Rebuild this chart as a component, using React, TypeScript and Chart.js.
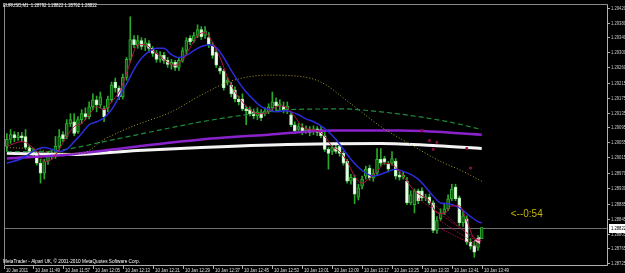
import { useEffect, useRef } from 'react';
import { Chart, registerables } from 'chart.js';

Chart.register(...registerables);

// ---- categories (M1 bars, 10 Jan 2011) ----
const times = [
  '11:42','11:43','11:44','11:45','11:46','11:47','11:48','11:49','11:50','11:51','11:52','11:53','11:54','11:55','11:56','11:57','11:58','11:59',
  '12:00','12:01','12:02','12:03','12:04','12:05','12:06','12:07','12:08','12:09','12:10','12:11','12:12','12:13','12:14','12:15','12:16','12:17','12:18','12:19',
  '12:20','12:21','12:22','12:23','12:24','12:25','12:26','12:27','12:28','12:29','12:30','12:31','12:32','12:33','12:34','12:35','12:36','12:37','12:38','12:39',
  '12:40','12:41','12:42','12:43','12:44','12:45','12:46','12:47','12:48','12:49','12:50','12:51','12:52','12:53','12:54','12:55','12:56','12:57','12:58','12:59',
  '13:00','13:01','13:02','13:03','13:04','13:05','13:06','13:07','13:08','13:09','13:10','13:11','13:12','13:13','13:14','13:15','13:16','13:17','13:18','13:19',
  '13:20','13:21','13:22','13:23','13:24','13:25','13:26','13:27','13:28','13:29','13:30','13:31','13:32','13:33','13:34','13:35','13:36','13:37','13:38','13:39',
  '13:40','13:41','13:42','13:43','13:44','13:45','13:46','13:47','13:48','13:49',
];
const futureSlots = 33; // empty chart-shift space right of the last bar

// ---- OHLC ----
const openPrices = [
  1.29043,1.29062,1.29075,1.29067,1.29072,1.29070,1.29040,1.29029,1.29024,1.28997,
  1.28970,1.29002,1.29024,1.29016,1.29043,1.29075,1.29070,1.29105,1.29110,1.29083,
  1.29116,1.29132,1.29124,1.29151,1.29170,1.29156,1.29145,1.29148,1.29170,1.29218,
  1.29202,1.29178,1.29231,1.29280,1.29334,1.29320,1.29331,1.29315,1.29323,1.29310,
  1.29296,1.29280,1.29291,1.29277,1.29266,1.29272,1.29258,1.29277,1.29304,1.29337,
  1.29331,1.29345,1.29361,1.29345,1.29339,1.29318,1.29299,1.29256,1.29248,1.29218,
  1.29210,1.29196,1.29172,1.29172,1.29145,1.29143,1.29137,1.29126,1.29134,1.29132,
  1.29137,1.29148,1.29164,1.29153,1.29153,1.29143,1.29129,1.29102,1.29089,1.29094,
  1.29086,1.29089,1.29083,1.29091,1.29089,1.29072,1.29035,1.29029,1.29040,1.29043,
  1.29024,1.29002,1.28948,1.28957,1.28905,1.28935,1.28962,1.28984,1.28957,1.28970,
  1.29008,1.29010,1.28994,1.28997,1.29002,1.28965,1.28959,1.28948,1.28889,1.28884,
  1.28922,1.28922,1.28903,1.28905,1.28889,1.28814,1.28846,1.28862,1.28873,1.28900,
  1.28932,1.28903,1.28835,1.28846,1.28782,1.28773,1.28768,1.28792,
];
const highPrices = [
  1.29078,1.29089,1.29083,1.29081,1.29081,1.29089,1.29045,1.29037,1.29029,1.29008,
  1.29008,1.29029,1.29035,1.29070,1.29089,1.29083,1.29116,1.29132,1.29132,1.29124,
  1.29143,1.29148,1.29164,1.29186,1.29180,1.29191,1.29153,1.29180,1.29218,1.29229,
  1.29207,1.29240,1.29285,1.29396,1.29345,1.29345,1.29339,1.29337,1.29331,1.29315,
  1.29304,1.29301,1.29299,1.29285,1.29280,1.29277,1.29285,1.29312,1.29339,1.29345,
  1.29353,1.29374,1.29369,1.29369,1.29353,1.29326,1.29307,1.29261,1.29253,1.29231,
  1.29218,1.29205,1.29180,1.29186,1.29153,1.29151,1.29145,1.29148,1.29143,1.29148,
  1.29159,1.29191,1.29175,1.29170,1.29164,1.29164,1.29137,1.29110,1.29105,1.29105,
  1.29099,1.29097,1.29099,1.29097,1.29097,1.29081,1.29040,1.29048,1.29048,1.29051,
  1.29029,1.29008,1.28967,1.28965,1.28940,1.28962,1.28989,1.28992,1.28981,1.29037,
  1.29037,1.29016,1.29002,1.29029,1.29010,1.28975,1.28973,1.28959,1.28922,1.28927,
  1.28927,1.28930,1.28913,1.28913,1.28895,1.28852,1.28873,1.28887,1.28911,1.28940,
  1.28940,1.28908,1.28868,1.28854,1.28792,1.28784,1.28800,1.28822,
];
const lowPrices = [
  1.29029,1.29051,1.29056,1.29059,1.29056,1.29035,1.29024,1.29016,1.28992,1.28943,
  1.28954,1.28994,1.29008,1.29010,1.29035,1.29056,1.29064,1.29097,1.29072,1.29078,
  1.29105,1.29116,1.29118,1.29143,1.29137,1.29148,1.29110,1.29137,1.29164,1.29191,
  1.29170,1.29172,1.29223,1.29272,1.29312,1.29310,1.29307,1.29304,1.29299,1.29288,
  1.29272,1.29272,1.29269,1.29258,1.29253,1.29250,1.29250,1.29272,1.29293,1.29320,
  1.29326,1.29339,1.29334,1.29337,1.29312,1.29283,1.29258,1.29240,1.29196,1.29210,
  1.29178,1.29164,1.29156,1.29140,1.29102,1.29126,1.29118,1.29116,1.29113,1.29126,
  1.29132,1.29137,1.29143,1.29137,1.29134,1.29132,1.29097,1.29078,1.29081,1.29075,
  1.29078,1.29072,1.29075,1.29072,1.29067,1.29029,1.28981,1.29021,1.29024,1.29016,
  1.28992,1.28943,1.28940,1.28887,1.28897,1.28927,1.28954,1.28951,1.28948,1.28965,
  1.28989,1.28994,1.28973,1.28992,1.28954,1.28951,1.28954,1.28884,1.28884,1.28862,
  1.28887,1.28895,1.28895,1.28884,1.28808,1.28806,1.28841,1.28857,1.28868,1.28895,
  1.28895,1.28827,1.28825,1.28776,1.28763,1.28741,1.28760,1.28792,
];
const closePrices = [
  1.29062,1.29075,1.29067,1.29072,1.29067,1.29040,1.29029,1.29024,1.28997,1.28970,
  1.29002,1.29024,1.29016,1.29043,1.29070,1.29064,1.29105,1.29116,1.29078,1.29116,
  1.29132,1.29124,1.29151,1.29170,1.29156,1.29178,1.29124,1.29172,1.29210,1.29202,
  1.29178,1.29231,1.29280,1.29334,1.29320,1.29331,1.29315,1.29326,1.29310,1.29296,
  1.29280,1.29291,1.29277,1.29266,1.29272,1.29258,1.29277,1.29304,1.29331,1.29328,
  1.29345,1.29361,1.29342,1.29358,1.29320,1.29291,1.29264,1.29248,1.29202,1.29223,
  1.29186,1.29172,1.29164,1.29145,1.29140,1.29132,1.29126,1.29137,1.29121,1.29140,
  1.29151,1.29164,1.29153,1.29159,1.29143,1.29153,1.29102,1.29086,1.29097,1.29083,
  1.29091,1.29081,1.29091,1.29081,1.29072,1.29035,1.29024,1.29040,1.29029,1.29024,
  1.28997,1.28948,1.28959,1.28913,1.28930,1.28954,1.28981,1.28957,1.28970,1.29008,
  1.28997,1.29000,1.28981,1.29010,1.28962,1.28959,1.28965,1.28889,1.28911,1.28922,
  1.28895,1.28903,1.28905,1.28889,1.28814,1.28841,1.28862,1.28873,1.28900,1.28927,
  1.28900,1.28835,1.28854,1.28782,1.28771,1.28755,1.28792,1.28822,
];

// ---- indicator lines: [bar index, price] ----
const redLine: [number, number][] = [
  [0,1.29043],[4,1.29056],[8,1.29029],[10,1.29002],[12,1.29008],[14,1.29035],[16,1.29070],[18,1.29097],[20,1.29105],[22,1.29129],
  [24,1.29151],[26,1.29143],[28,1.29164],[30,1.29191],[31,1.29213],[33,1.29272],[35,1.29320],[37,1.29320],[39,1.29304],[41,1.29288],
  [43,1.29272],[45,1.29264],[47,1.29277],[49,1.29312],[51,1.29345],[53,1.29353],[55,1.29326],[57,1.29285],[59,1.29231],[61,1.29191],
  [63,1.29164],[65,1.29143],[67,1.29132],[69,1.29132],[71,1.29145],[73,1.29153],[75,1.29148],[77,1.29124],[79,1.29097],[81,1.29089],
  [83,1.29086],[85,1.29070],[87,1.29043],[89,1.29029],[91,1.29002],[93,1.28962],[95,1.28943],[97,1.28957],[99,1.28975],[101,1.28997],
  [103,1.28994],[105,1.28975],[107,1.28948],[109,1.28922],[111,1.28908],[113,1.28895],[115,1.28862],[117,1.28860],[119,1.28881],[121,1.28881],
  [123,1.28841],[125,1.28792],[127,1.28787],
];
const blueLine: [number, number][] = [
  [0,1.28997],[4,1.29010],[8,1.29035],[10,1.29040],[12,1.29035],[14,1.29029],[16,1.29035],[18,1.29056],[20,1.29078],[22,1.29102],
  [24,1.29110],[26,1.29121],[28,1.29143],[30,1.29178],[32,1.29213],[34,1.29253],[36,1.29283],[38,1.29301],[40,1.29310],[42,1.29310],
  [44,1.29293],[46,1.29285],[48,1.29291],[50,1.29304],[52,1.29315],[54,1.29320],[56,1.29312],[58,1.29285],[60,1.29250],[62,1.29218],
  [64,1.29191],[66,1.29170],[68,1.29151],[70,1.29143],[72,1.29137],[74,1.29140],[76,1.29137],[78,1.29129],[80,1.29118],[82,1.29110],
  [84,1.29099],[86,1.29083],[88,1.29062],[90,1.29035],[92,1.29008],[94,1.28986],[96,1.28970],[98,1.28962],[100,1.28967],[102,1.28975],
  [104,1.28981],[106,1.28975],[108,1.28967],[110,1.28954],[112,1.28932],[114,1.28908],[116,1.28889],[118,1.28887],[120,1.28881],[122,1.28868],
  [124,1.28852],[126,1.28838],[127,1.28835],
];
const yellowLine: [number, number][] = [
  [0,1.29040],[8,1.29035],[14,1.29024],[20,1.29024],[26,1.29062],[34,1.29099],[44,1.29137],[52,1.29183],[60,1.29221],[70,1.29237],
  [78,1.29234],[84,1.29218],[92,1.29159],[100,1.29097],[108,1.29048],[116,1.29002],[122,1.28975],[127,1.28948],
];
const greenLine: [number, number][] = [
  [0,1.29029],[10,1.29029],[17,1.29037],[26,1.29056],[35,1.29075],[44,1.29094],[52,1.29110],[66,1.29132],[75,1.29143],[90,1.29145],
  [100,1.29137],[110,1.29124],[118,1.29110],[127,1.29089],
];
const purpleLine: [number, number][] = [
  [0,1.29010],[17,1.29021],[35,1.29043],[52,1.29062],[70,1.29075],[87,1.29086],[105,1.29086],[127,1.29075],
];
const whiteLine: [number, number][] = [
  [0,1.29024],[17,1.29021],[35,1.29032],[52,1.29040],[75,1.29048],[100,1.29051],[115,1.29045],[127,1.29037],
];
const fanLines: [number, number][][] = [
  [[110,1.28900],[126,1.28787]],
  [[114,1.28887],[126,1.28779]],
  [[115,1.28846],[126,1.28774]],
  [[116,1.28819],[126,1.28768]],
];
const maroonMarks: [number, number][] = [
  [111,1.29086],[113,1.29059],[114,1.29035],[115,1.29054],[123,1.29037],[124,1.28984],
];
const arrowMark: [number, number] = [126, 1.28787];

// ---- axis tick labels ----
const priceTicks = [
  '1.29420','1.29380','1.29340','1.29300','1.29260','1.29215','1.29175','1.29135','1.29095',
  '1.29055','1.29015','1.28970','1.28930','1.28885','1.28845','1.28805','1.28765','1.28725',
];
const timeTicks = [
  '10 Jan 2011','10 Jan 11:49','10 Jan 11:57','10 Jan 12:05','10 Jan 12:13','10 Jan 12:21','10 Jan 12:29',
  '10 Jan 12:37','10 Jan 12:45','10 Jan 12:53','10 Jan 13:01','10 Jan 13:09','10 Jan 13:17','10 Jan 13:25',
  '10 Jan 13:33','10 Jan 13:41','10 Jan 13:49',
];
const titleText = 'EURUSD,M1  1.28792 1.28822 1.28792 1.28822';
const footerText = 'MetaTrader - Alpari UK, \u00a9 2001-2010 MetaQuotes Software Corp.';
const timerText = '<--0:54';

const labels = [...times, ...Array(futureSlots).fill('')];

function toSeries(pts: [number, number][]) {
  const arr: (number | null)[] = new Array(labels.length).fill(null);
  pts.forEach(([i, v]) => { arr[i] = v; });
  return arr;
}

const FONT = '"Liberation Sans", Arial, sans-serif';

const mtPlugin = {
  id: 'mtDecor',
  beforeDraw(chart: any) {
    const { ctx, width, height } = chart;
    ctx.save();
    ctx.fillStyle = '#000';
    ctx.fillRect(0, 0, width, height);
    ctx.restore();
  },
  beforeDatasetsDraw(chart: any) {
    const { ctx, chartArea, scales } = chart;
    const last = closePrices[closePrices.length - 1];
    const py = Math.round(scales.y.getPixelForValue(last)) + 0.5;
    ctx.save();
    ctx.strokeStyle = '#6c6c6c';
    ctx.lineWidth = 1;
    ctx.beginPath();
    ctx.moveTo(chartArea.left, py);
    ctx.lineTo(chartArea.right, py);
    ctx.stroke();
    ctx.restore();
  },
  afterDraw(chart: any) {
    const { ctx, chartArea, scales } = chart;
    const { left, right, top, bottom } = chartArea;
    ctx.save();
    // frame
    ctx.strokeStyle = '#8a8a8a';
    ctx.lineWidth = 1;
    ctx.beginPath();
    ctx.moveTo(left - 0.5, bottom);
    ctx.lineTo(left - 0.5, top - 0.5);
    ctx.lineTo(right + 0.5, top - 0.5);
    ctx.stroke();
    ctx.strokeStyle = '#b0b0b0';
    ctx.beginPath();
    ctx.moveTo(right + 0.5, top - 0.5);
    ctx.lineTo(right + 0.5, bottom + 0.5);
    ctx.lineTo(left - 0.5, bottom + 0.5);
    ctx.stroke();

    // price axis
    ctx.font = `6px ${FONT}`;
    ctx.textBaseline = 'middle';
    ctx.textAlign = 'left';
    priceTicks.forEach((t) => {
      const py = Math.round(scales.y.getPixelForValue(parseFloat(t))) + 0.5;
      ctx.strokeStyle = '#b0b0b0';
      ctx.beginPath();
      ctx.moveTo(right + 1, py);
      ctx.lineTo(right + 3, py);
      ctx.stroke();
      ctx.fillStyle = '#c8c8c8';
      ctx.fillText(t, right + 4, py, 15);
    });
    // current price box
    const last = closePrices[closePrices.length - 1];
    const cy = Math.round(scales.y.getPixelForValue(last));
    ctx.fillStyle = '#ffffff';
    ctx.fillRect(right + 2, cy - 4, 625 - right - 2, 9);
    ctx.fillStyle = '#000000';
    ctx.fillText(last.toFixed(5), right + 4, cy + 0.5, 15);

    // time axis
    ctx.textBaseline = 'top';
    timeTicks.forEach((t, k) => {
      let px: number;
      if (k === 0) px = left - 1;
      else px = scales.x.getPixelForValue(times.indexOf(t.slice(-5)));
      px = Math.round(px) + 0.5;
      ctx.strokeStyle = '#b0b0b0';
      ctx.beginPath();
      ctx.moveTo(px, bottom + 1);
      ctx.lineTo(px, bottom + 4);
      ctx.stroke();
      ctx.fillStyle = '#e0e0e0';
      ctx.fillText(t, px + 1.5, bottom + 2.5, k === 0 ? 22 : 25);
    });

    // title & footer
    ctx.fillStyle = '#ffffff';
    ctx.textBaseline = 'middle';
    ctx.font = `6px ${FONT}`;
    ctx.fillText(titleText, 3, 5.5, 94);
    ctx.fillText(footerText, 3, 261, 137);

    // bar timer
    const lastX = scales.x.getPixelForValue(times.length - 1);
    ctx.font = `10px ${FONT}`;
    ctx.fillStyle = '#c8b400';
    ctx.fillText(timerText, lastX + 29, cy - 14);
    ctx.restore();
  },
};

const BULL_FILL = '#0f560f';
const BULL_EDGE = '#2fae2f';
const BEAR_FILL = '#f6fff6';
const BEAR_EDGE = '#a8eea8';
const WICK = '#2aa82a';

export default function App() {
  const ref = useRef<HTMLCanvasElement>(null);
  useEffect(() => {
    document.body.style.margin = '0';
    document.body.style.background = '#000';
    const lineBase = {
      type: 'line' as const,
      pointRadius: 0,
      spanGaps: true,
      fill: false,
      cubicInterpolationMode: 'monotone' as const,
    };
    const isBull = openPrices.map((o, i) => closePrices[i] >= o);
    const chart = new Chart(ref.current as HTMLCanvasElement, {
      type: 'bar',
      data: {
        labels,
        datasets: [
          { ...lineBase, label: 'Fast MA', data: toSeries(redLine), borderColor: '#b8124a', borderWidth: 1, order: 0 } as any,
          { ...lineBase, label: 'Mid MA', data: toSeries(blueLine), borderColor: '#2c2cdc', borderWidth: 1.5, order: 1 } as any,
          ...fanLines.map((f, k) => ({
            type: 'line', label: 'fan' + k, data: toSeries(f), borderColor: '#b0124a', borderWidth: 1,
            borderDash: [1, 1], pointRadius: 0, spanGaps: true, order: 2,
          })) as any[],
          {
            type: 'line', label: 'marks', data: toSeries(maroonMarks), showLine: false,
            pointStyle: 'rect', pointRadius: 1.3,
            pointBackgroundColor: '#8c1048', pointBorderColor: '#8c1048', order: 2,
          } as any,
          {
            type: 'line', label: 'arrow', data: toSeries([arrowMark]), showLine: false,
            pointStyle: 'triangle', rotation: -90, pointRadius: 3.5,
            pointBackgroundColor: '#ffb8d8', pointBorderColor: '#ffb8d8', order: 2,
          } as any,
          { ...lineBase, label: 'Slow MA', data: toSeries(yellowLine), borderColor: '#a89c28', borderWidth: 1, borderDash: [1, 2], order: 3 } as any,
          { ...lineBase, label: 'MA 2', data: toSeries(greenLine), borderColor: '#1f8c3c', borderWidth: 1.2, borderDash: [5, 3], order: 4 } as any,
          { ...lineBase, label: 'MA 3', data: toSeries(purpleLine), borderColor: '#8a22cc', borderWidth: 2.5, order: 5 } as any,
          { ...lineBase, label: 'MA 4', data: toSeries(whiteLine), borderColor: '#f4f4f4', borderWidth: 3, order: 6 } as any,
          {
            type: 'bar', label: 'body',
            data: openPrices.map((o, i) => [o, closePrices[i]]),
            backgroundColor: isBull.map((b) => (b ? BULL_FILL : BEAR_FILL)),
            borderColor: isBull.map((b) => (b ? BULL_EDGE : BEAR_EDGE)),
            borderWidth: 1, borderSkipped: false,
            barThickness: 3, minBarLength: 1, grouped: false, order: 10,
          } as any,
          {
            type: 'bar', label: 'wick',
            data: lowPrices.map((l, i) => [l, highPrices[i]]),
            backgroundColor: WICK, borderWidth: 0,
            barThickness: 1, grouped: false, order: 11,
          } as any,
        ],
      },
      options: {
        responsive: false,
        animation: false,
        devicePixelRatio: 1,
        layout: { padding: { left: 2, top: 2, right: 18, bottom: 8 } },
        plugins: { legend: { display: false }, tooltip: { enabled: false } },
        scales: {
          x: { type: 'category', display: false, offset: true, grid: { display: false } },
          y: { type: 'linear', display: false, min: 1.2872, max: 1.29428 },
        },
      },
      plugins: [mtPlugin],
    });
    return () => chart.destroy();
  }, []);
  return (
    <div style={{ position: 'fixed', left: 0, top: 0, width: 625, height: 273, background: '#000' }}>
      <canvas ref={ref} width={625} height={273} style={{ display: 'block', width: 625, height: 273 }} />
    </div>
  );
}
